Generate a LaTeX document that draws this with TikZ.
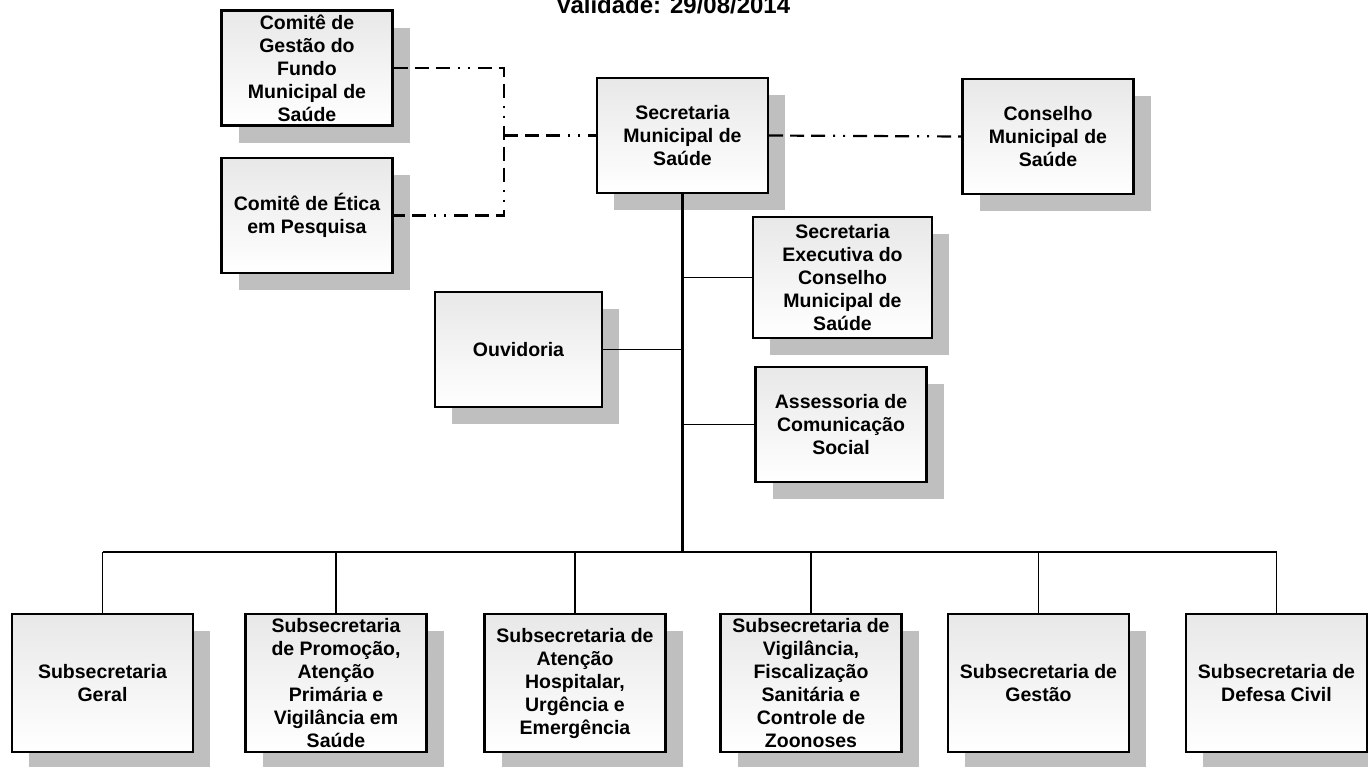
\documentclass[tikz,border=0pt]{standalone}
\usepackage{fontspec}
\setmainfont{Liberation Sans}
\usetikzlibrary{shadows}

\begin{document}
\begin{tikzpicture}[x=1pt,y=-1pt,
    bnode/.style={draw,line width=2.2pt,top color=black!9,bottom color=white,
      drop shadow={shadow xshift=17pt,shadow yshift=-17pt,fill=black!25,opacity=1},
      inner sep=0pt,align=center,font=\bfseries\fontsize{19.5}{23}\selectfont},
    tnode/.style={bnode,minimum width=171pt,minimum height=115pt},
    snode/.style={bnode,minimum width=181pt,minimum height=138pt},
    dline/.style={line width=2.2pt,dash pattern=on 14pt off 7pt on 14pt off 7pt on 14pt off 8pt on 2pt off 8pt on 2pt off 8pt},
    cline/.style={line width=1.6pt}]
    \useasboundingbox (0,0) rectangle (1368,766);
    \node (tit) at (673,13) [anchor=base,font=\bfseries\fontsize{24}{28}\selectfont] {Validade: 29/08/2014};

    \node[tnode] (cgf) at (307,68) {Comitê de\\Gestão do\\Fundo\\Municipal de\\Saúde};
    \node[tnode] (cep) at (307,215.5) {Comitê de Ética\\em Pesquisa};
    \node[tnode] (sms) at (682.5,135.5) {Secretaria\\Municipal de\\Saúde};
    \node[tnode] (cms) at (1048,136.5) {Conselho\\Municipal de\\Saúde};
    \node[tnode,minimum width=179pt,minimum height=121pt] (sec) at (842.5,277.5) {Secretaria\\Executiva do\\Conselho\\Municipal de\\Saúde};
    \node[tnode,minimum width=167pt] (ouv) at (518.5,349.5) {Ouvidoria};
    \node[tnode] (asc) at (841,424.5) {Assessoria de\\Comunicação\\Social};

    \node[snode] (s1) at (102.5,683) {Subsecretaria\\Geral};
    \node[snode] (s2) at (336,683) {Subsecretaria\\de Promoção,\\Atenção\\Primária e\\Vigilância em\\Saúde};
    \node[snode] (s3) at (575,683) {Subsecretaria de\\Atenção\\Hospitalar,\\Urgência e\\Emergência};
    \node[snode] (s4) at (811,683) {Subsecretaria de\\Vigilância,\\Fiscalização\\Sanitária e\\Controle de\\Zoonoses};
    \node[snode] (s5) at (1038.5,683) {Subsecretaria de\\Gestão};
    \node[snode] (s6) at (1276.5,683) {Subsecretaria de\\Defesa Civil};

    \coordinate (jn) at (504,135.5);
    \coordinate (bus) at (682.5,552);

    \draw[dline] (cgf.east) -| (jn) |- (cep.east);
    \draw[dline] (jn) -- (sms.west);
    \draw[dline] (sms.east) -- (cms.west);

    \draw[line width=2.4pt] (sms.south) -- (bus);
    \draw[cline] (sec.west) -- (sec.west -| sms.south);
    \draw[cline] (ouv.east) -- (ouv.east -| sms.south);
    \draw[cline] (asc.west) -- (asc.west -| sms.south);

    \draw[cline] (s1.north |- bus) -- (s6.north |- bus);
    \foreach \n in {s1,s2,s3,s4,s5,s6}
      \draw[cline] (\n.north) -- (\n.north |- bus);
\end{tikzpicture}
\end{document}
